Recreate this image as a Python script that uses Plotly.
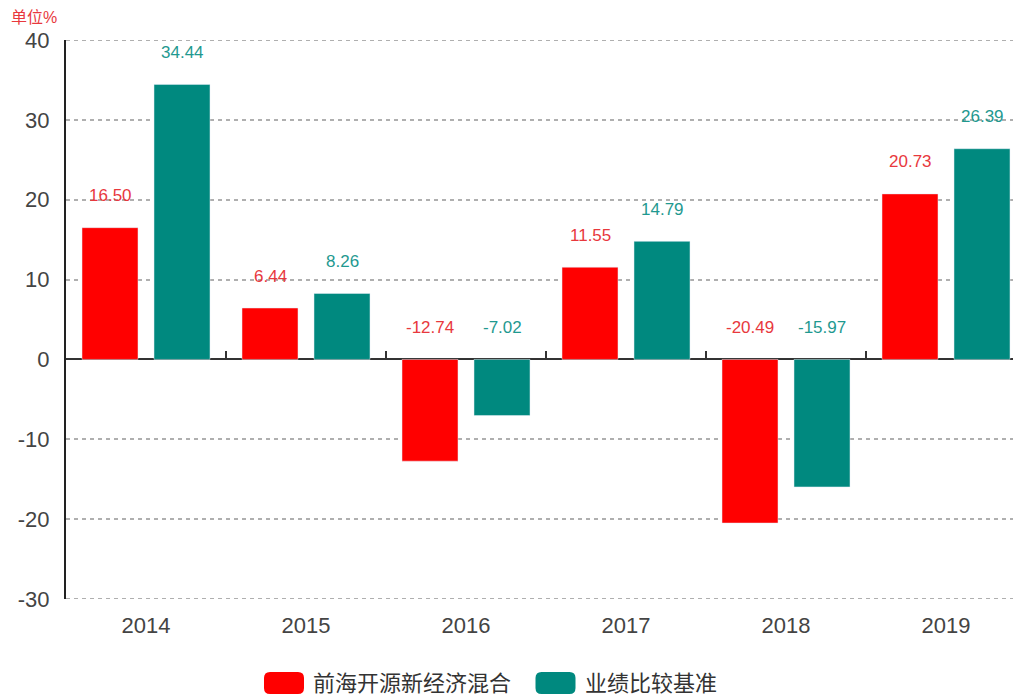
import plotly.graph_objects as go

years = ["2014", "2015", "2016", "2017", "2018", "2019"]
fund = [16.50, 6.44, -12.74, 11.55, -20.49, 20.73]
bench = [34.44, 8.26, -7.02, 14.79, -15.97, 26.39]
fund_name = "前海开源新经济混合"
bench_name = "业绩比较基准"
unit_label = "单位%"
yticks = [40, 30, 20, 10, 0, -10, -20, -30]
ytick_text = ["40", "30", "20", "10", "0", "-10", "-20", "-30"]

RED = "#FF0000"
TEAL = "#00897F"
RED_TXT = "#E8383D"
TEAL_TXT = "#1F9990"
GRID = "#AFAFAF"
GRID_DASH = "4px,4px"

idx = list(range(len(years)))
OFF = 8  # default page body margin
W, H = 1021 - OFF, 696 - OFF
PL, PT, PB = 66, 40, 599  # plot area in page pixels
ML, MT = PL - OFF, PT - OFF
pw = W - ML
ph = PB - PT
MB = H - MT - ph

def px_x(px):
    return (px - PL) / pw

def px_y(py):
    return (PB - py) / ph

fig = go.Figure()
fig.add_trace(go.Bar(x=idx, y=fund, name=fund_name, marker_color=RED,
                     width=0.35, offset=-0.4, showlegend=False, hoverinfo="skip"))
fig.add_trace(go.Bar(x=idx, y=bench, name=bench_name, marker_color=TEAL,
                     width=0.35, offset=0.05, showlegend=False, hoverinfo="skip"))
# dummy trace for the zero-line tick axis
fig.add_trace(go.Scatter(x=[0], y=[None], xaxis="x2", yaxis="y", mode="markers",
                         showlegend=False, hoverinfo="skip"))

anns = []
for i, (a, b) in enumerate(zip(fund, bench)):
    anns.append(dict(x=i - 0.225, y=max(a, 0), text=f"{a:.2f}", showarrow=False,
                     yshift=32, yanchor="middle", font=dict(size=17, color=RED_TXT)))
    anns.append(dict(x=i + 0.225, y=max(b, 0), text=f"{b:.2f}", showarrow=False,
                     yshift=32, yanchor="middle", font=dict(size=17, color=TEAL_TXT)))

anns.append(dict(xref="paper", yref="paper", x=px_x(9), y=px_y(18),
                 xanchor="left", yanchor="middle", text=unit_label, showarrow=False,
                 font=dict(size=16, color="#E8383D")))

shapes = []
# boundary gridlines (top / bottom of the value range)
for yv in (max(yticks), min(yticks)):
    shapes.append(dict(type="line", xref="paper", yref="y", x0=0, x1=1, y0=yv, y1=yv,
                       line=dict(color=GRID, width=2, dash=GRID_DASH), layer="below"))

# custom legend
def swatch(cx, color):
    path = ("M -14,-11 L 14,-11 Q 20,-11 20,-5 L 20,5 Q 20,11 14,11 "
            "L -14,11 Q -20,11 -20,5 L -20,-5 Q -20,-11 -14,-11 Z")
    return dict(type="path", xref="paper", yref="paper", xsizemode="pixel",
                ysizemode="pixel", xanchor=px_x(cx), yanchor=px_y(683),
                path=path, fillcolor=color, line=dict(width=0))
shapes.append(swatch(284, RED))
shapes.append(swatch(555.5, TEAL))
anns.append(dict(xref="paper", yref="paper", x=px_x(311), y=px_y(683),
                 xanchor="left", yanchor="middle", text=fund_name, showarrow=False,
                 font=dict(size=22, color="#333")))
anns.append(dict(xref="paper", yref="paper", x=px_x(583), y=px_y(683),
                 xanchor="left", yanchor="middle", text=bench_name, showarrow=False,
                 font=dict(size=22, color="#333")))

xr = [-0.5, -0.5 + pw / 160]
fig.update_layout(
    width=W, height=H,
    margin=dict(l=ML, r=0, t=MT, b=MB, autoexpand=False),
    paper_bgcolor="white", plot_bgcolor="white",
    barmode="overlay",
    font=dict(family="Liberation Sans, Arial, Noto Sans CJK SC, sans-serif"),
    xaxis=dict(range=xr, tickmode="array", tickvals=idx, ticktext=years,
               showgrid=False, zeroline=False, showline=False, ticks="",
               automargin=False,
               ticklabelstandoff=11, tickfont=dict(size=22, color="#444")),
    xaxis2=dict(range=xr, overlaying="x", anchor="free", position=30 / 70,
                tickmode="array", tickvals=[i + 0.5 for i in idx[:-1]],
                ticks="inside", ticklen=8, tickwidth=1.5, tickcolor="#333",
                automargin=False,
                showticklabels=False, showgrid=False, zeroline=False, showline=False),
    yaxis=dict(range=[-30, 40], tickmode="array", tickvals=yticks, ticktext=ytick_text,
               showgrid=True, gridcolor=GRID, gridwidth=2, griddash=GRID_DASH,
               zeroline=True, zerolinecolor="#333", zerolinewidth=2,
               showline=True, linecolor="#222", linewidth=2,
               ticks="", ticklabelstandoff=10, automargin=False,
               tickfont=dict(size=22, color="#444")),
    annotations=anns,
    shapes=shapes,
)

fig.write_html("out.html")
